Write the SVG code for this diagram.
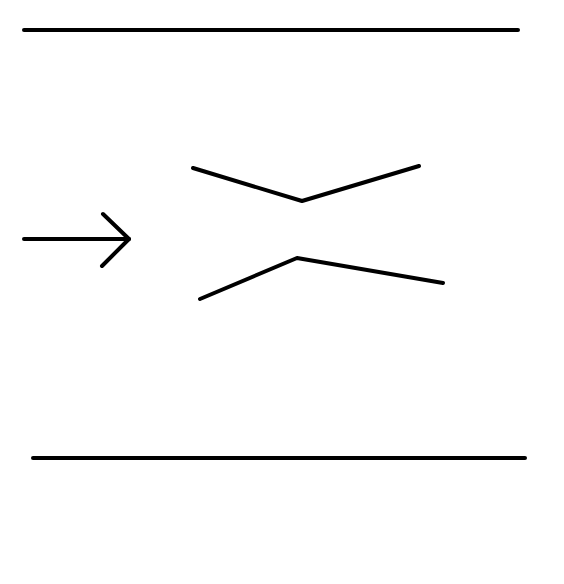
<svg xmlns="http://www.w3.org/2000/svg" width="564" height="584" viewBox="0 0 564 584">
<style>
.s{fill:none;stroke:#000;stroke-width:4;stroke-linecap:round;stroke-linejoin:round}
</style>
<rect width="564" height="584" fill="#fff"/>
<g id="top-wall"><line class="s" x1="24" y1="30" x2="518" y2="30"/></g>
<g id="bottom-wall"><line class="s" x1="33" y1="458" x2="525" y2="458"/></g>
<g id="upper-flap"><polyline class="s" points="193,168 302,201 419,166"/></g>
<g id="lower-flap"><polyline class="s" points="200,299 297,258 443,283"/></g>
<g id="connectors">
<line class="s" x1="24" y1="239" x2="129" y2="239"/>
<polyline class="s" points="103,214 129,239 102,266"/>
</g>
</svg>
